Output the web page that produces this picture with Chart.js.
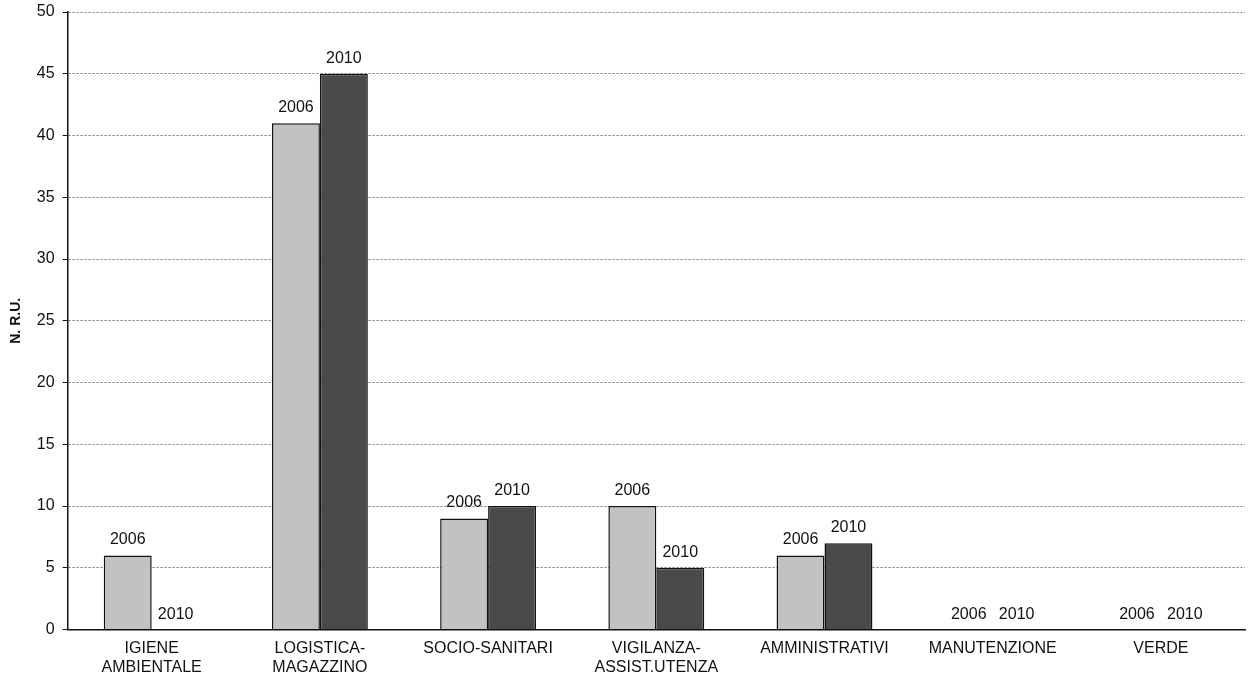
<!DOCTYPE html>
<html lang="it">
<head>
    <meta charset="UTF-8">
    <script src="https://cdn.jsdelivr.net/npm/chart.js@4"></script>
    <title>N. R.U. 2006 - 2010</title>
    <style>
        html, body { margin: 0; padding: 0; background: #fff; }
        #chartContainer { width: 1250px; height: 686px; }
    </style>
</head>
<body>
    <div id="chartContainer">
        <canvas id="chart"></canvas>
    </div>
    <script>
        var categories = [
            ['IGIENE', 'AMBIENTALE'],
            ['LOGISTICA-', 'MAGAZZINO'],
            'SOCIO-SANITARI',
            ['VIGILANZA-', 'ASSIST.UTENZA'],
            'AMMINISTRATIVI',
            'MANUTENZIONE',
            'VERDE'
        ];
        var seriesNames = ['2006', '2010'];
        var values2006 = [6, 41, 9, 10, 6, 0, 0];
        var values2010 = [0, 45, 10, 5, 7, 0, 0];

        var fontFam = '"Liberation Sans", Arial, sans-serif';

        // writes the series name above every bar, like the original
        const barNames = {
            id: 'barNames',
            afterDatasetsDraw(chart) {
                const ctx = chart.ctx;
                ctx.save();
                ctx.font = '16px ' + fontFam;
                ctx.fillStyle = '#111';
                ctx.textBaseline = 'alphabetic';
                ctx.textAlign = 'center';
                chart.data.datasets.forEach(function(ds, i) {
                    chart.getDatasetMeta(i).data.forEach(function(bar) {
                        ctx.fillText(ds.label, bar.x, bar.y - 11);
                    });
                });
                ctx.restore();
            }
        };

        const config = {
            type: 'bar',
            data: {
                labels: categories,
                datasets: [{
                    label: seriesNames[0],
                    data: values2006,
                    backgroundColor: '#c2c2c2',
                    borderColor: '#111',
                    borderWidth: 1.5,
                    borderSkipped: 'bottom'
                },
                {
                    label: seriesNames[1],
                    data: values2010,
                    backgroundColor: '#4a4a4a',
                    borderColor: '#111',
                    borderWidth: 1.5,
                    borderSkipped: 'bottom'
                }]
            },
            options: {
                responsive: true,
                maintainAspectRatio: false,
                animation: false,
                layout: { padding: { top: 0, right: 5, left: 8, bottom: 0 } },
                plugins: {
                    legend: { display: false },
                    tooltip: { enabled: false }
                },
                datasets: {
                    bar: { categoryPercentage: 0.57, barPercentage: 1.0 }
                },
                scales: {
                    x: {
                        grid: { display: false, drawTicks: false },
                        border: { color: '#111', width: 1.5 },
                        ticks: {
                            color: '#111',
                            padding: 9,
                            maxRotation: 0,
                            autoSkip: false,
                            font: { family: fontFam, size: 16 }
                        }
                    },
                    y: {
                        min: 0,
                        max: 50,
                        ticks: {
                            stepSize: 5,
                            color: '#111',
                            padding: 8,
                            font: { family: fontFam, size: 16, lineHeight: 0.5 }
                        },
                        grid: { color: '#777', lineWidth: 1, tickLength: 5, tickColor: '#111' },
                        border: { color: '#111', width: 1.5, dash: [2, 2] },
                        title: {
                            display: true,
                            text: 'N. R.U.',
                            color: '#111',
                            padding: { top: 0, bottom: 4 },
                            font: { family: fontFam, size: 14, weight: 'bold' }
                        }
                    }
                }
            },
            plugins: [barNames]
        };

        const ctx = document.getElementById('chart');
        const chart = new Chart(ctx, config);
    </script>
</body>
</html>
